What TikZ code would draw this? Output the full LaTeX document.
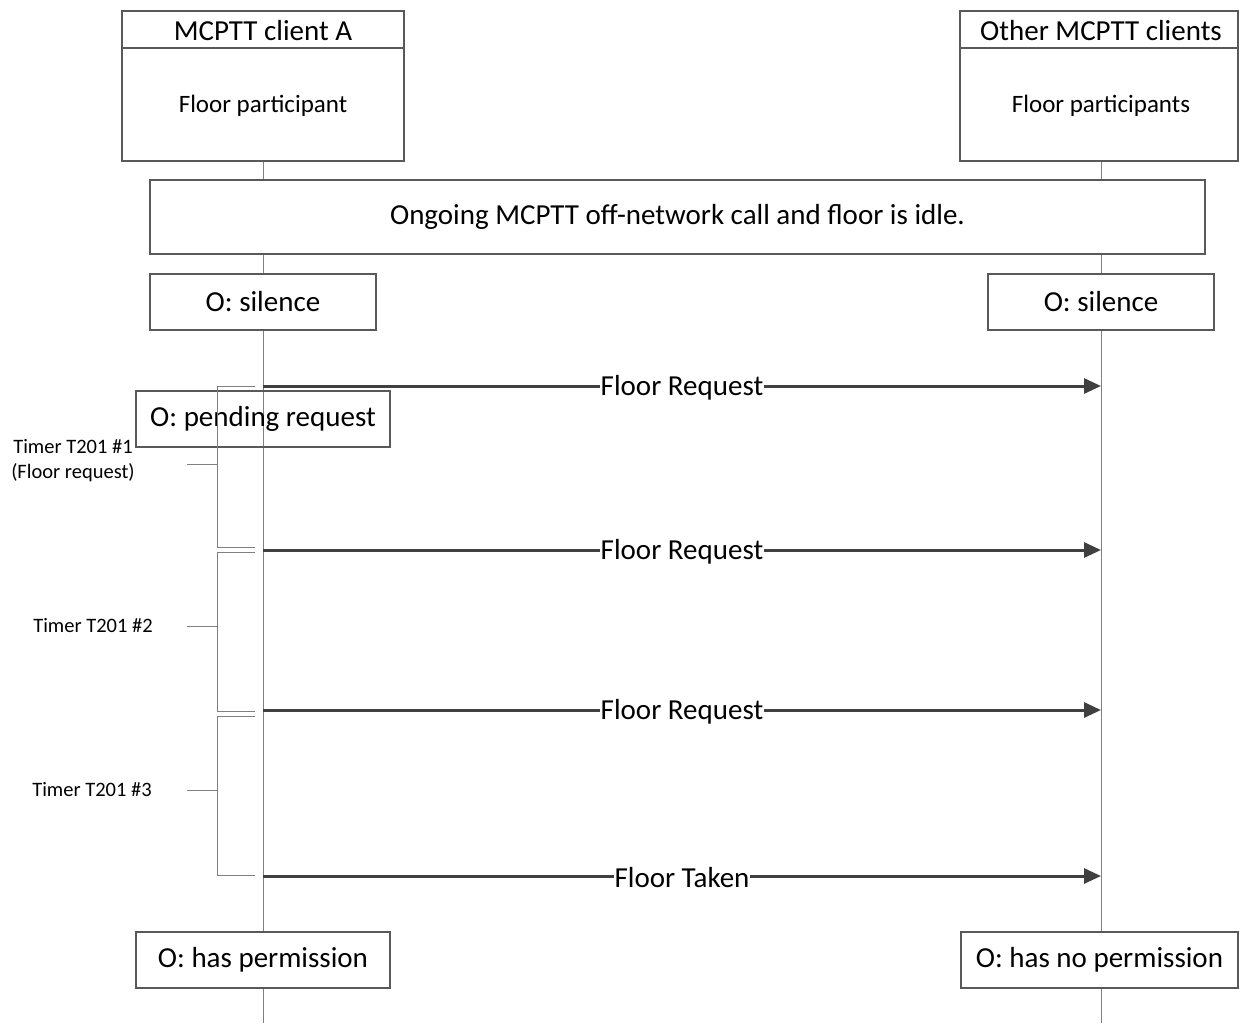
\documentclass[tikz,border=0pt]{standalone}
\usepackage{fontspec}
\setmainfont{Carlito}
\usetikzlibrary{arrows.meta}
\definecolor{boxc}{HTML}{595959}
\definecolor{lifec}{HTML}{808080}
\definecolor{msgc}{HTML}{404040}
\tikzset{
  x=1pt,y=-1pt,
  lifeline/.style={draw=lifec,line width=1pt},
  headbox/.style={draw=boxc,line width=1.2pt,fill=white,minimum width=282pt,minimum height=150pt,inner sep=0pt},
  statebox/.style={draw=boxc,line width=1.2pt,fill=white,minimum height=56pt,inner sep=0pt,font=\fontsize{29}{34}\selectfont},
  headtext/.style={inner sep=0pt,yshift=-1.5pt,font=\fontsize{29}{34}\selectfont},
  subtext/.style={inner sep=0pt,yshift=-1.5pt,font=\fontsize{25}{30}\selectfont},
  msg/.style={draw=msgc,line width=3pt,-{Triangle[length=17pt,width=15pt]}},
  msglbl/.style={fill=white,inner sep=1pt,yshift=-1.5pt,text=black,font=\fontsize{29}{34}\selectfont},
  brk/.style={draw=lifec,line width=1pt},
  timerlbl/.style={inner sep=0pt,align=center,yshift=-2pt,font=\fontsize{20.5}{25}\selectfont},
}
\begin{document}
\begin{tikzpicture}
\useasboundingbox (0,0) rectangle (1239,1023);
% lifeline ends
\coordinate (endA) at (263,1023);
\coordinate (endB) at (1101,1023);
% heads
\node[headbox] (headA) at (263,86) {};
\node[headbox,minimum width=278pt] (headB) at (1099,86) {};
\draw[lifeline] (headA.south) -- (endA);
\draw[lifeline] (headB.south -| endB) -- (endB);
\draw[draw=boxc,line width=1.2pt] (headA.west |- 0,48) -- (headA.east |- 0,48);
\draw[draw=boxc,line width=1.2pt] (headB.west |- 0,48) -- (headB.east |- 0,48);
\node[headtext] (tA) at (263,29) {MCPTT client A};
\node[subtext] (sA) at (263,104) {Floor participant};
\node[headtext] (tB) at (1101,29) {Other MCPTT clients};
\node[subtext] (sB) at (1101,104) {Floor participants};
% ongoing
\node[statebox,minimum width=1055pt,minimum height=74pt] (ongoing) at (677.5,217) {\raisebox{-1.5pt}{Ongoing MCPTT off-network call and floor is idle.}};
% silence
\node[statebox,minimum width=226pt] (silA) at (263,302) {\raisebox{-1.5pt}{O: silence}};
\node[statebox,minimum width=226pt] (silB) at (1101,302) {\raisebox{-1.5pt}{O: silence}};
% pending (transparent)
\node[statebox,fill=none,minimum width=254pt] (pend) at (263,419) {\raisebox{-1.5pt}{O: pending request}};
% brackets
\draw[brk] (255,386) -| (217,547) -- (255,547);
\draw[brk] (187,464) -- (217,464);
\draw[brk] (255,552) -| (217,711) -- (255,711);
\draw[brk] (187,626) -- (217,626);
\draw[brk] (255,716) -| (217,875) -- (255,875);
\draw[brk] (187,790) -- (217,790);
\node[timerlbl] (t1) at (73,459) {Timer T201 \#1\\(Floor request)};
\node[timerlbl] (t2) at (93,624) {Timer T201 \#2};
\node[timerlbl] (t3) at (92,788) {Timer T201 \#3};
% messages
\coordinate (a1) at (263,386); \coordinate (b1) at (1101,386);
\coordinate (a2) at (263,550); \coordinate (b2) at (1101,550);
\coordinate (a3) at (263,710); \coordinate (b3) at (1101,710);
\coordinate (a4) at (263,876); \coordinate (b4) at (1101,876);
\draw[msg] (a1) -- node[msglbl,pos=0.5] {Floor Request} (b1);
\draw[msg] (a2) -- node[msglbl,pos=0.5] {Floor Request} (b2);
\draw[msg] (a3) -- node[msglbl,pos=0.5] {Floor Request} (b3);
\draw[msg] (a4) -- node[msglbl,pos=0.5] {Floor Taken} (b4);
% final states
\node[statebox,minimum width=254pt] (permA) at (263,960) {\raisebox{-1.5pt}{O: has permission}};
\node[statebox,minimum width=277pt] (permB) at (1099.5,960) {\raisebox{-1.5pt}{O: has no permission}};
\end{tikzpicture}
\end{document}
